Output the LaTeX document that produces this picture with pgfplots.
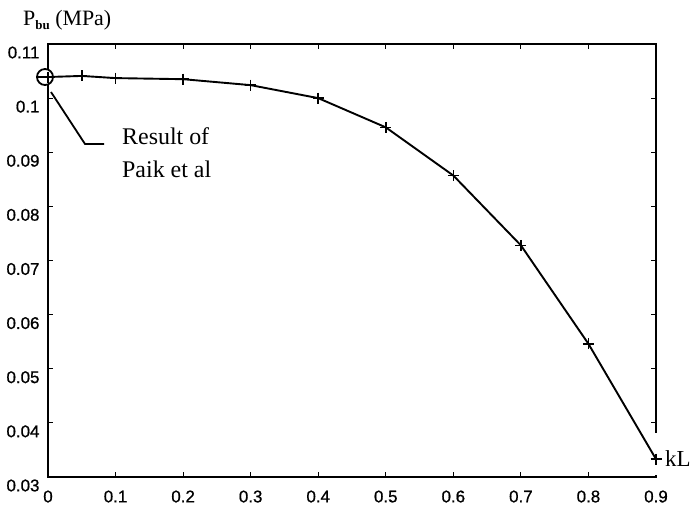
\documentclass[border=0pt]{standalone}
\usepackage{fontspec}
\setmainfont{Liberation Serif}
\setsansfont{Liberation Sans}[FakeBold=0.8]
\usepackage{pgfplots}
\pgfplotsset{compat=1.18}
\usetikzlibrary{calc}

\begin{document}
\begin{tikzpicture}
  \begin{axis}[
    name=ax,
    at={(0,0)}, anchor=south west,
    scale only axis,
    width=608bp, height=433bp,
    xmin=0, xmax=0.9,
    ymin=0.03, ymax=0.11,
    xtick={0,0.1,0.2,0.3,0.4,0.5,0.6,0.7,0.8,0.9},
    ytick={0.03,0.04,0.05,0.06,0.07,0.08,0.09,0.1,0.11},
    tick align=inside,
    major tick length=5bp,
    tick style={line width=1.2bp, black},
    axis line style={line width=1.8bp},
    /pgf/number format/assume math mode=true,
    /pgf/number format/fixed,
    /pgf/number format/precision=2,
    tick label style={font=\sffamily\fontsize{17}{17}\selectfont},
    yticklabel style={yshift=-8.5bp, xshift=-5bp},
    xticklabel style={yshift=-10bp},
    clip=false,
  ]
    % gap in the right-hand frame line near the bottom
    \draw[white, line width=3.5bp] (axis cs:0.9,0.0381) -- (axis cs:0.9,0.0304);

    \addplot[black, line width=1.9bp, mark=+, mark size=5.5bp,
             mark options={line width=1.6bp}]
      coordinates {
        (0,0.1039) (0.05,0.1041) (0.1,0.1037) (0.2,0.1035) (0.3,0.1024)
        (0.4,0.1000) (0.5,0.0946) (0.6,0.0857) (0.7,0.0728) (0.8,0.0546)
        (0.9,0.0333)
      };

    % circle marking the result of Paik et al
    \draw[black, line width=1.8bp, fill=white] ([xshift=-3bp]axis cs:0,0.1039) circle[radius=8bp];
    \draw[black, line width=1.9bp] ([xshift=-11bp]axis cs:0,0.1039) -- (axis cs:0,0.1039);
  \end{axis}

  % leader line and annotation
  \draw[black, line width=1.8bp] ($(ax.south west)+(3bp,385bp)$) -- ($(ax.south west)+(37bp,333bp)$) -- ($(ax.south west)+(56bp,333bp)$);
  \node[anchor=base west, inner sep=0pt, font=\fontsize{24}{24}\selectfont] at ($(ax.south west)+(74bp,332bp)$) {Result of};
  \node[anchor=base west, inner sep=0pt, font=\fontsize{24}{24}\selectfont] at ($(ax.south west)+(74bp,299bp)$) {Paik et al};

  % axis titles
  \node[anchor=base west, inner sep=0pt, font=\fontsize{22}{22}\selectfont] at ($(ax.south west)+(-25bp,451bp)$)
    {P\raisebox{-0.35ex}{\fontsize{13}{13}\selectfont\bfseries bu} (MPa)};
  \node[anchor=west, inner sep=0pt, font=\fontsize{23}{23}\selectfont] at ($(ax.south west)+(617bp,18bp)$) {kL};

  \pgfresetboundingbox
  \path ($(ax.south west)+(-48bp,-31bp)$) rectangle ($(ax.south west)+(650bp,477bp)$);
\end{tikzpicture}
\end{document}
